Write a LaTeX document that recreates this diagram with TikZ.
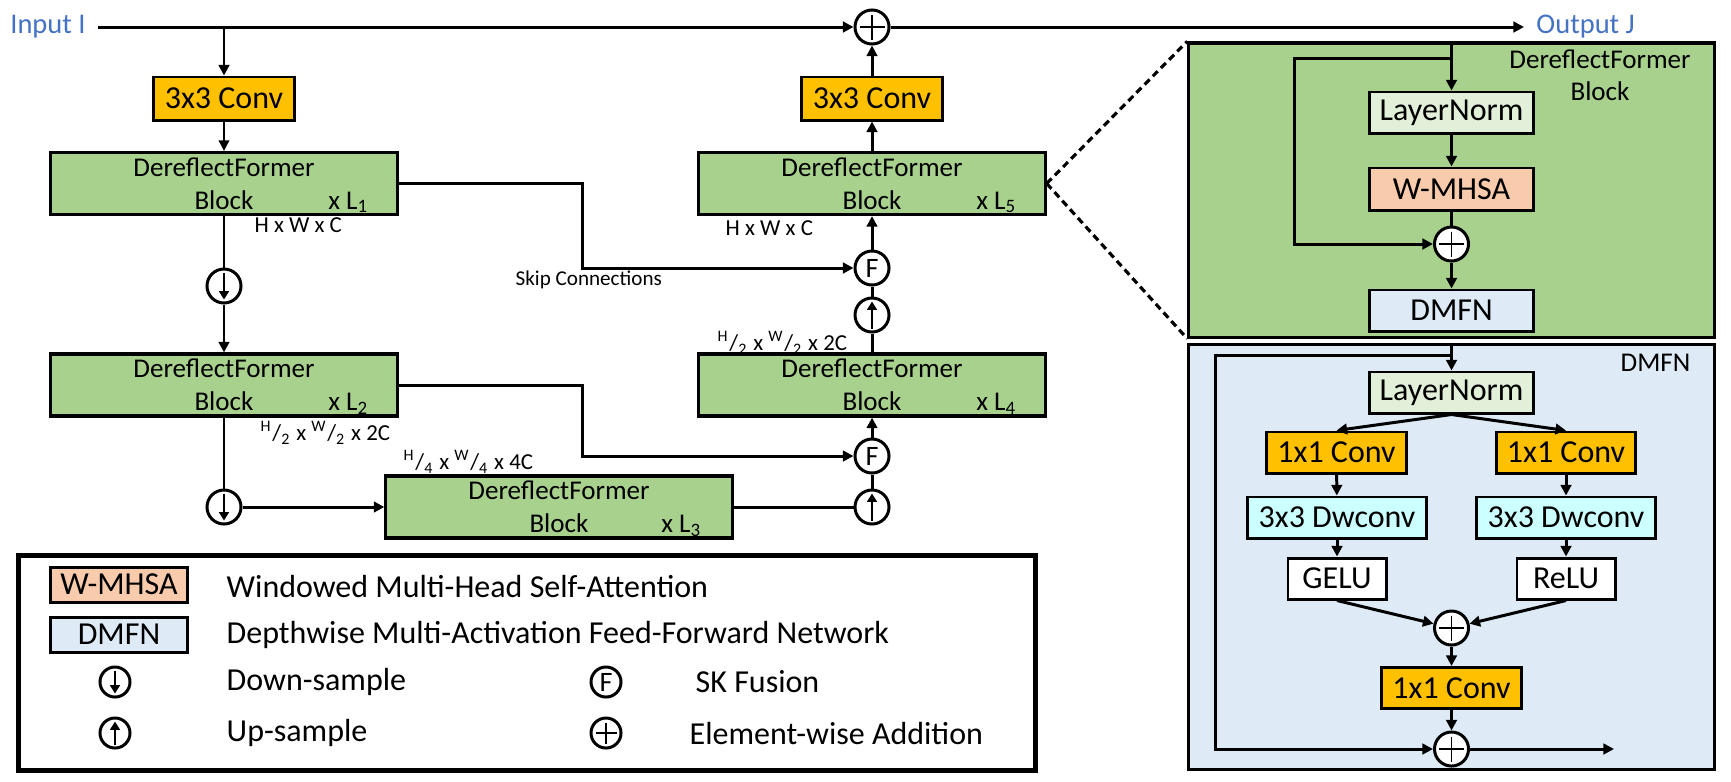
\documentclass[tikz,border=0pt]{standalone}
\usepackage{fontspec}
\setmainfont{Carlito}
\usetikzlibrary{arrows.meta,positioning}

\definecolor{convorange}{HTML}{FFC000}
\definecolor{dfgreen}{HTML}{A9D18E}
\definecolor{normgreen}{HTML}{E2F0D9}
\definecolor{attnpeach}{HTML}{F8CBAD}
\definecolor{ffnblue}{HTML}{DEEBF7}
\definecolor{dwcyan}{HTML}{CCFFFF}
\definecolor{ioblue}{HTML}{4472C4}

\tikzset{
  box/.style={draw, line width=0.85pt, inner sep=0pt, font=\fontsize{9.1}{11}\selectfont},
  convbox/.style={box, fill=convorange, minimum width=1.41cm, minimum height=0.43cm},
  convsmall/.style={box, fill=convorange, minimum width=1.39cm, minimum height=0.41cm},
  normbox/.style={box, fill=normgreen, minimum width=1.64cm, minimum height=0.41cm},
  attnbox/.style={box, fill=attnpeach, minimum width=1.64cm, minimum height=0.42cm},
  ffnbox/.style={box, fill=ffnblue, minimum width=1.64cm, minimum height=0.41cm},
  dwbox/.style={box, fill=dwcyan, minimum width=1.78cm, minimum height=0.41cm},
  actbox/.style={box, fill=white, minimum width=0.98cm, minimum height=0.41cm},
  dfblock/.style={draw, line width=0.9pt, fill=dfgreen, minimum width=3.46cm,
    minimum height=0.62cm, align=center, inner sep=0pt, font=\fontsize{7.7}{9.4}\selectfont},
  panel/.style={draw, line width=0.9pt, inner sep=0pt},
  paneltitle/.style={align=center, inner sep=0pt, font=\fontsize{7.7}{9.2}\selectfont},
  opcirc/.style={circle, draw, fill=white, line width=0.85pt, minimum size=0.34cm, inner sep=0pt},
  addop/.style={opcirc, path picture={
      \draw[line width=0.4pt] ([yshift=-0.045cm]path picture bounding box.north)
        -- ([yshift=0.045cm]path picture bounding box.south)
        ([xshift=0.045cm]path picture bounding box.west)
        -- ([xshift=-0.045cm]path picture bounding box.east);}},
  downop/.style={opcirc, path picture={
      \draw[line width=0.75pt, -{Triangle[length=2.4pt,width=2.8pt]}]
        ([yshift=-0.035cm]path picture bounding box.north)
        -- ([yshift=0.035cm]path picture bounding box.south);}},
  upop/.style={opcirc, path picture={
      \draw[line width=0.75pt, -{Triangle[length=2.4pt,width=2.8pt]}]
        ([yshift=0.035cm]path picture bounding box.south)
        -- ([yshift=-0.035cm]path picture bounding box.north);}},
  fuseop/.style={opcirc, font=\fontsize{8}{8}\selectfont},
  lgdop/.style={minimum size=0.30cm},
  mult/.style={inner sep=0pt, anchor=base east, font=\fontsize{7.7}{9}\selectfont},
  dimlabel/.style={inner sep=0pt, anchor=west, font=\fontsize{6.5}{7}\selectfont},
  iotext/.style={text=ioblue, font=\fontsize{8.1}{9}\selectfont},
  lgdtext/.style={inner sep=0pt, anchor=west, font=\fontsize{9.1}{11}\selectfont},
  flow/.style={line width=0.85pt},
  thinflow/.style={line width=0.5pt},
  zoomline/.style={line width=0.9pt, dash pattern=on 2pt off 1.3pt},
}

\begin{document}
\begin{tikzpicture}[x=0.01cm, y=-0.01cm, >={Triangle[length=3pt,width=3pt]}]
  \fill[white] (0,0) rectangle (1731,781);
  \useasboundingbox (0,0) rectangle (1731,781);

  % Input, output and global residual
  \node[iotext, anchor=east] (inp) at (98,27) {Input I};
  \node[addop] (addout) at (872,27) {};
  \node[iotext, anchor=west] (outp) at (1524,27) {Output J};

  % Encoder
  \node[convbox] (convin) at (224,98.5) {3x3 Conv};
  \node[dfblock] (df1) at (224,183.5) {DereflectFormer\\Block};
  \node[downop] (dn1) at (224,286) {};
  \node[dfblock] (df2) at (224,385) {DereflectFormer\\Block};
  \node[downop] (dn2) at (224,507) {};
  \node[dfblock] (df3) at (559,507) {DereflectFormer\\Block};

  % Decoder
  \node[upop] (up1) at (872,507) {};
  \node[fuseop] (fu2) at (872,456) {F};
  \node[dfblock] (df4) at (872,385) {DereflectFormer\\Block};
  \node[upop] (up2) at (872,315) {};
  \node[fuseop] (fu1) at (872,268) {F};
  \node[dfblock] (df5) at (872,183.5) {DereflectFormer\\Block};
  \node[convbox] (convout) at (872,98.5) {3x3 Conv};

  % Repeat counts
  \node[mult] (m1) at ([xshift=-0.29cm,yshift=0.07cm]df1.south east) {x L\textsubscript{1}};
  \node[mult] (m2) at ([xshift=-0.29cm,yshift=0.07cm]df2.south east) {x L\textsubscript{2}};
  \node[mult] (m3) at ([xshift=-0.31cm,yshift=0.07cm]df3.south east) {x L\textsubscript{3}};
  \node[mult] (m4) at ([xshift=-0.29cm,yshift=0.07cm]df4.south east) {x L\textsubscript{4}};
  \node[mult] (m5) at ([xshift=-0.29cm,yshift=0.07cm]df5.south east) {x L\textsubscript{5}};

  % Feature sizes
  \node[dimlabel] (d1) at (254,225) {H x W x C};
  \node[dimlabel] (d2) at (260,433) {\textsuperscript{H}/\textsubscript{2} x \textsuperscript{W}/\textsubscript{2} x 2C};
  \node[dimlabel] (d3) at (403,462) {\textsuperscript{H}/\textsubscript{4} x \textsuperscript{W}/\textsubscript{4} x 4C};
  \node[dimlabel] (d4) at (717,343) {\textsuperscript{H}/\textsubscript{2} x \textsuperscript{W}/\textsubscript{2} x 2C};
  \node[dimlabel] (d5) at (725,228) {H x W x C};
  \node[inner sep=0pt, anchor=base west, font=\fontsize{6}{7}\selectfont] (skiplbl) at (515,285) {Skip Connections};

  % Main path
  \draw[flow,->] (inp.east) -- (addout);
  \draw[flow,->] (addout) -- (outp.west);
  \draw[flow,->] (convin.north |- inp.east) -- (convin.north);
  \draw[thinflow,->] (convin) -- (df1);
  \draw[flow] (df1) -- (dn1);
  \draw[flow,->] (dn1) -- (df2);
  \draw[flow] (df2) -- (dn2);
  \draw[flow,->] (dn2) -- (df3);
  \draw[flow] (df3) -- (up1);
  \draw[flow] (up1) -- (fu2);
  \draw[flow,->] (fu2) -- (df4);
  \draw[flow] (df4) -- (up2);
  \draw[flow] (up2) -- (fu1);
  \draw[flow,->] (fu1) -- (df5);
  \draw[flow,->] (df5) -- (convout);
  \draw[flow,->] (convout) -- (addout);

  % Skip connections
  \draw[flow,->] (df1.east) -- ++(184,0) |- (fu1);
  \draw[flow,->] (df2.east) -- ++(184,0) |- (fu2);

  % DereflectFormer block detail
  \node[panel, fill=dfgreen, minimum width=5.25cm, minimum height=2.94cm] (dfp) at (1451.5,190) {};
  \node[paneltitle] (dfptitle) at (1600,75) {DereflectFormer\\Block};
  \node[normbox] (ln1) at (1451.5,112.5) {LayerNorm};
  \node[attnbox] (attn) at (1451.5,189) {W-MHSA};
  \node[addop] (add1) at (1451.5,244) {};
  \node[ffnbox] (ffn) at (1451.5,310.5) {DMFN};
  \coordinate (br1) at (1451.5,58);
  \draw[flow,->] (dfp.north) -- (ln1);
  \draw[flow,->] (br1) -- ++(-157.5,0) |- (add1);
  \draw[flow,->] (ln1) -- (attn);
  \draw[flow] (attn) -- (add1);
  \draw[flow,->] (add1) -- (ffn);
  \draw[zoomline] (df5.east) -- (dfp.north west);
  \draw[zoomline] (df5.east) -- (dfp.south west);

  % DMFN detail
  \node[panel, fill=ffnblue, minimum width=5.25cm, minimum height=4.24cm] (ffp) at (1451.5,557) {};
  \node[paneltitle, anchor=east] (ffptitle) at (1691,363) {DMFN};
  \node[normbox] (ln2) at (1451.5,392.5) {LayerNorm};
  \node[convsmall] (pwl) at (1336.5,452.5) {1x1 Conv};
  \node[convsmall] (pwr) at (1566,452.5) {1x1 Conv};
  \node[dwbox] (dwl) at (1337,517.5) {3x3 Dwconv};
  \node[dwbox] (dwr) at (1566,517.5) {3x3 Dwconv};
  \node[actbox] (gelu) at (1337,578.5) {GELU};
  \node[actbox] (relu) at (1566,578.5) {ReLU};
  \node[addop] (add2) at (1451.5,628) {};
  \node[convsmall] (pwo) at (1451.5,688) {1x1 Conv};
  \node[addop] (add3) at (1451.5,749) {};
  \coordinate (br2) at (1451.5,355);
  \coordinate (ffout) at (1614,749);
  \draw[flow,->] (ffp.north) -- (ln2);
  \draw[flow,->] (br2) -- ++(-236.5,0) |- (add3);
  \draw[flow,->] (ln2.south) -- (pwl.north);
  \draw[flow,->] (ln2.south) -- (pwr.north);
  \foreach \a/\b in {pwl/dwl, dwl/gelu, pwr/dwr, dwr/relu}
    \draw[flow,->] (\a) -- (\b);
  \draw[flow,->] (gelu.south) -- (add2);
  \draw[flow,->] (relu.south) -- (add2);
  \draw[flow,->] (add2) -- (pwo);
  \draw[flow,->] (pwo) -- (add3);
  \draw[flow,->] (add3) -- (ffout);

  % Legend
  \node[draw, line width=1.4pt, minimum width=10.16cm, minimum height=2.14cm] (lgd) at (527,663) {};
  \node[attnbox, minimum width=1.36cm, minimum height=0.35cm] (lgattn) at (119,584.5) {W-MHSA};
  \node[ffnbox, minimum width=1.36cm, minimum height=0.35cm] (lgffn) at (119,634.5) {DMFN};
  \node[downop, lgdop] (lgdn) at (115,682) {};
  \node[upop, lgdop] (lgup) at (115,733) {};
  \node[fuseop, lgdop] (lgfu) at (606,682) {F};
  \node[addop, lgdop] (lgadd) at (606,733) {};
  \node[lgdtext] (t1) at (226,586) {Windowed Multi-Head Self-Attention};
  \node[lgdtext] (t2) at (226,635) {Depthwise Multi-Activation Feed-Forward Network};
  \node[lgdtext] (t3) at (226,682) {Down-sample};
  \node[lgdtext] (t4) at (226,733) {Up-sample};
  \node[lgdtext] (t5) at (695,682) {SK Fusion};
  \node[lgdtext] (t6) at (689,733) {Element-wise Addition};
\end{tikzpicture}
\end{document}
